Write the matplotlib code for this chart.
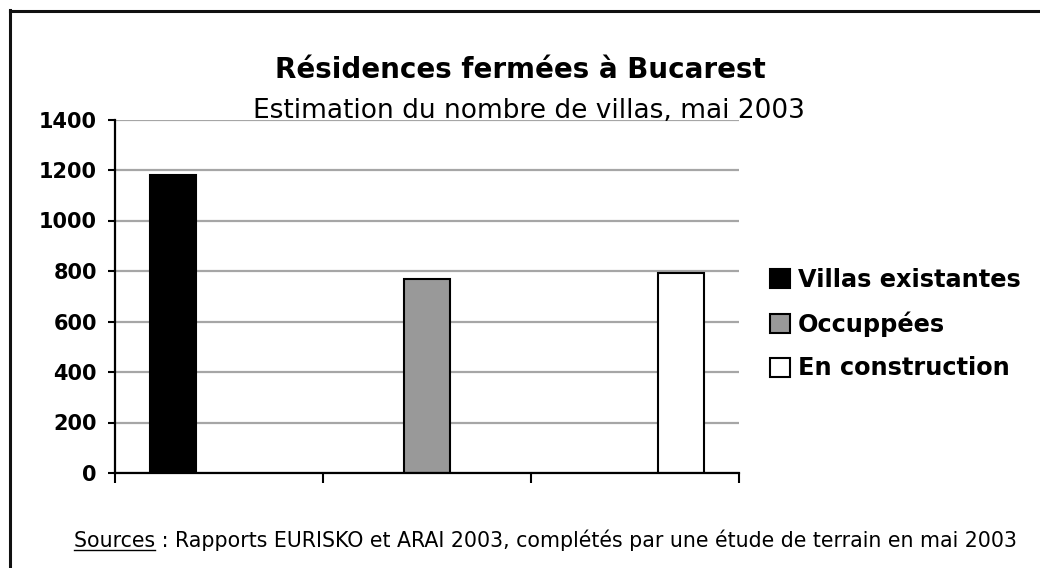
import matplotlib
matplotlib.use("Agg")
from matplotlib import pyplot as plt
from matplotlib.patches import Patch
from matplotlib.lines import Line2D

plt.rcParams['font.family'] = ['DejaVu Sans']

# données
series = ["Villas existantes", "Occuppées", "En construction"]
values = [1180, 767, 792]
categories = [0, 1, 2]          # chaque série occupe sa propre catégorie
yticks = [0, 200, 400, 600, 800, 1000, 1200, 1400]

title = "Résidences fermées à Bucarest"
subtitle = "Estimation du nombre de villas, mai 2003"
source_head = "Sources"
source_rest = " : Rapports EURISKO et ARAI 2003, complétés par une étude de terrain en mai 2003"

fills = ["#000000", "#999999", "#ffffff"]

W, H = 1040, 568
fig = plt.figure(figsize=(10.4, 5.68), dpi=100)
ax = fig.add_axes([115/W, 1-473/H, 624/W, 353.5/H])

# barres groupées façon Excel (3 séries, écart 150 %)
w = 1/4.5
for j, (cat, v) in enumerate(zip(categories, values)):
    left = cat + 0.75*w + j*w
    ax.bar(left, v, width=w, align="edge", color=fills[j],
           edgecolor="black", linewidth=1.5, zorder=3)

ax.set_xlim(0, 3)
ax.set_ylim(0, 1400)
ax.set_yticks(yticks)
ax.set_xticks([0, 1, 2, 3])
ax.set_xticklabels([])
ax.yaxis.grid(True, color="#a6a6a6", linewidth=1.6, zorder=0)
ax.set_axisbelow(True)
for s in ["top", "right"]:
    ax.spines[s].set_visible(False)
for s in ["left", "bottom"]:
    ax.spines[s].set_linewidth(1.6)
    ax.spines[s].set_zorder(4)
ax.tick_params(axis="y", length=5, width=1.5, pad=8, labelsize=15)
ax.tick_params(axis="x", length=7, width=1.5)
for lab in ax.get_yticklabels():
    lab.set_fontweight("bold")

# titres
fig.text(520/W, 1-70/H, title, ha="center", va="center",
         fontsize=20, fontweight="bold")
fig.text(529/W, 1-118/H, subtitle, ha="center", va="baseline",
         fontsize=19)

# légende
handles = [Patch(facecolor=c, edgecolor="black", linewidth=1.5) for c in fills]
fig.legend(handles, series, loc="center left",
           bbox_to_anchor=(770/W, 1-324/H), frameon=False,
           borderpad=0, borderaxespad=0, handlelength=0.85, handleheight=0.85,
           handletextpad=0.3, labelspacing=0.82,
           prop={"size": 17.3, "weight": "bold"})

# sources (mot "Sources" souligné)
fs_src = 14.8
src = fig.text(545/W, 1-547/H, source_head + source_rest,
               ha="center", va="baseline", fontsize=fs_src)
fig.canvas.draw()
r = fig.canvas.get_renderer()
bb = src.get_window_extent(r)
tmp = fig.text(0, 0, source_head, fontsize=fs_src)
hw = tmp.get_window_extent(r).width
tmp.remove()
y_line = (src.get_position()[1] * H - 3) / H
fig.add_artist(Line2D([bb.x0/W, (bb.x0 + hw)/W], [y_line, y_line],
                      transform=fig.transFigure, color="black", linewidth=1))

# cadre (haut et gauche)
fig.add_artist(Line2D([9.5/W, 1], [1-10.5/H, 1-10.5/H],
                      transform=fig.transFigure, color="#111111", linewidth=2.2))
fig.add_artist(Line2D([9.5/W, 9.5/W], [0, 1-9.5/H],
                      transform=fig.transFigure, color="#111111", linewidth=2.2))

fig.savefig("out.png", dpi=100)
